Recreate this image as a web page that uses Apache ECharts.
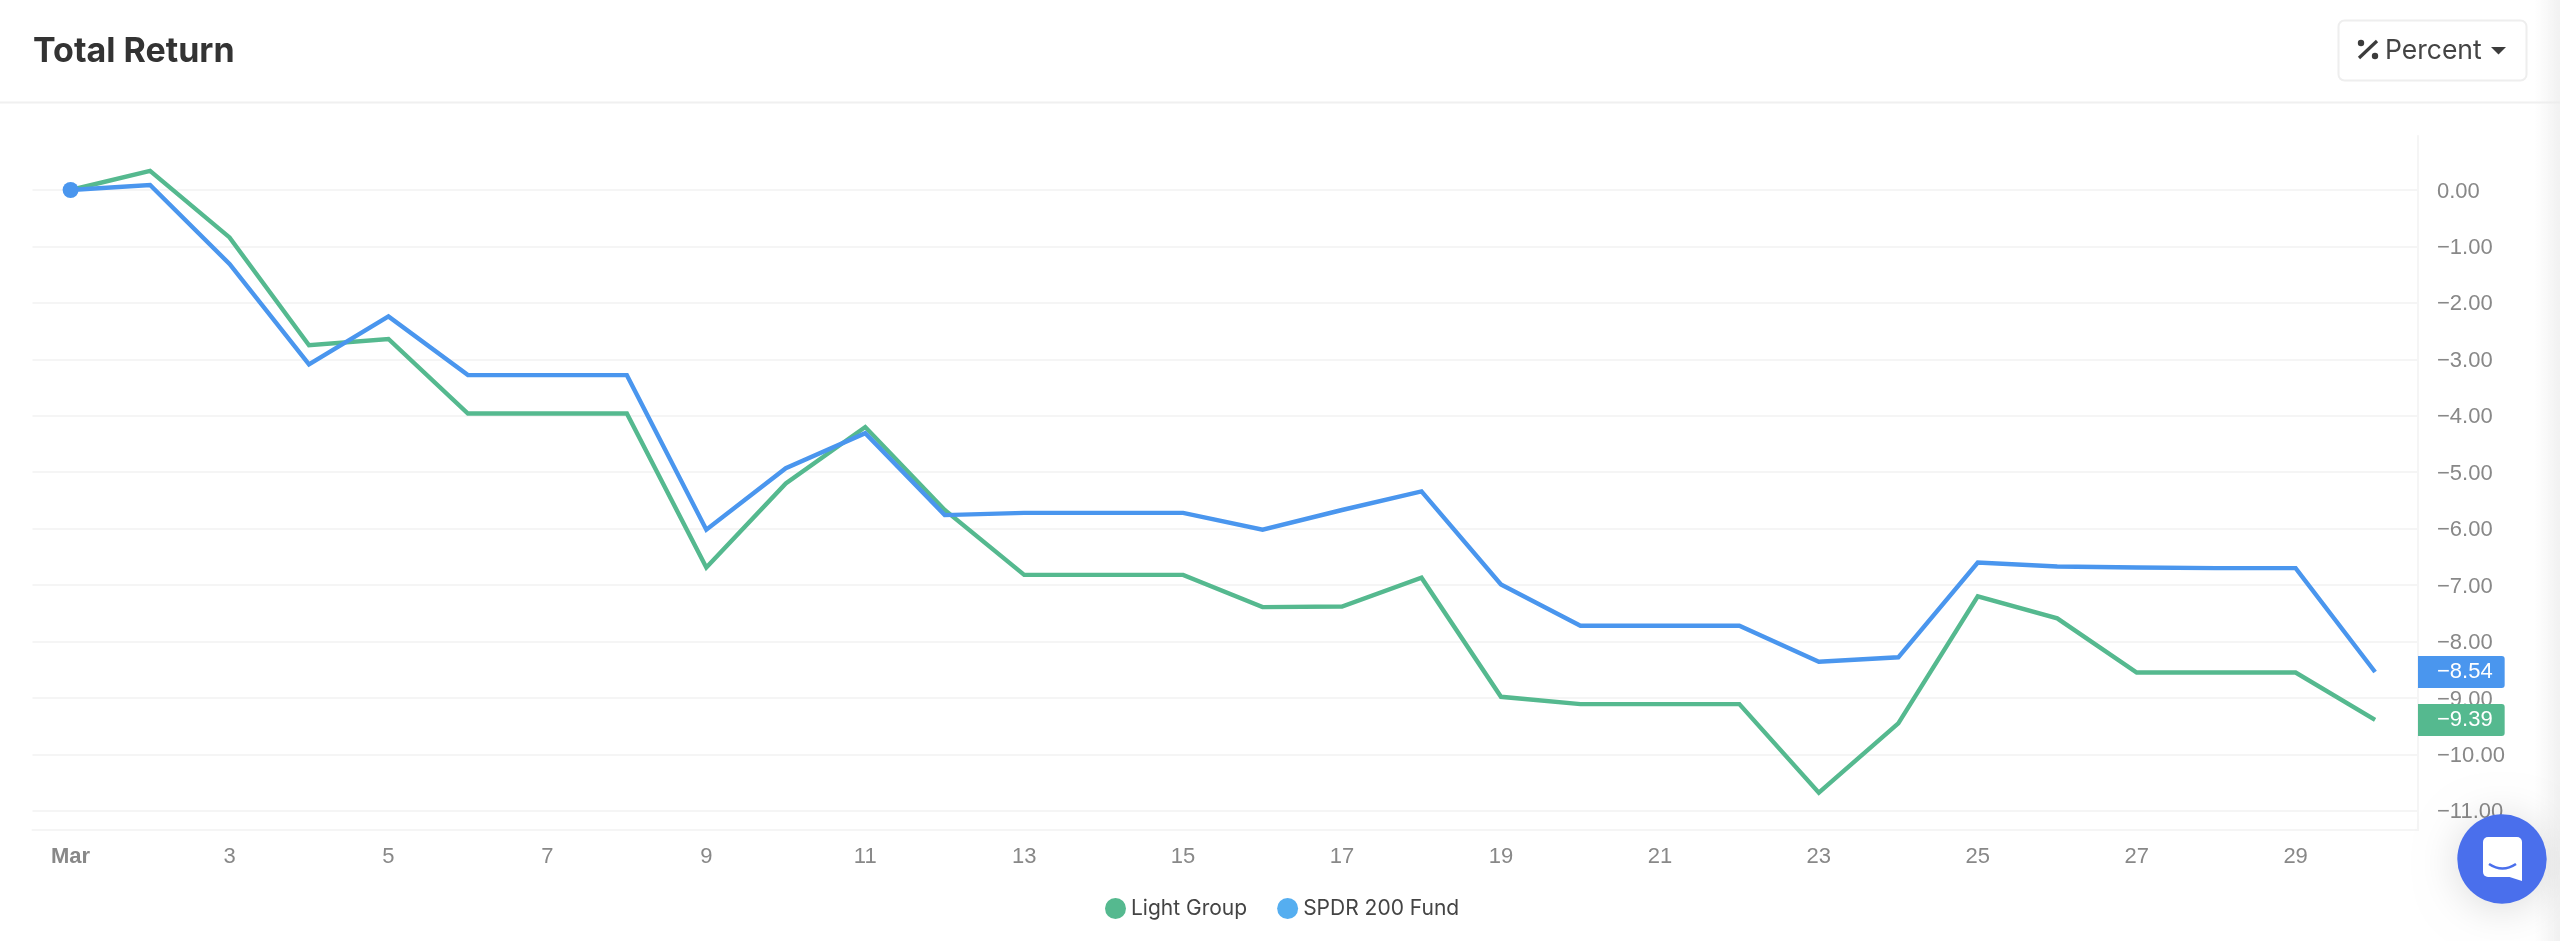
<!DOCTYPE html>
<html>
<head>
<meta charset="utf-8">
<style>
  html, body { margin: 0; padding: 0; background: #fff; }
  #chart { width: 2560px; height: 941px; }
</style>
<script src="https://cdn.jsdelivr.net/npm/echarts@6/dist/echarts.min.js"></script>
</head>
<body>
<div id="chart"></div>
<script>
const days = [1,2,3,4,5,6,7,8,9,10,11,12,13,14,15,16,17,18,19,20,21,22,23,24,25,26,27,28,29,30];
const lightGroup = [0,0.34,-0.84,-2.75,-2.64,-3.96,-3.96,-3.96,-6.69,-5.2,-4.2,-5.67,-6.82,-6.82,-6.82,-7.39,-7.38,-6.87,-8.98,-9.11,-9.11,-9.11,-10.68,-9.45,-7.2,-7.59,-8.55,-8.55,-8.55,-9.39];
const spdrFund = [0,0.09,-1.31,-3.09,-2.24,-3.28,-3.28,-3.28,-6.02,-4.93,-4.31,-5.76,-5.72,-5.72,-5.72,-6.02,-5.67,-5.34,-6.99,-7.72,-7.72,-7.72,-8.36,-8.28,-6.6,-6.67,-6.69,-6.7,-6.7,-8.54];
const xTicks = [1,3,5,7,9,11,13,15,17,19,21,23,25,27,29];
const yTicks = [0,-1,-2,-3,-4,-5,-6,-7,-8,-9,-10,-11];

const GREEN = '#55b98f', BLUE = '#4a96ee', LEGEND_BLUE = '#55aef0', RULE = '#f5f5f5';
const signed = v => v.toFixed(2).replace('-', '\u2212');

// Last value of a series, shown as a coloured tag over the value axis.
function endTag(values, color) {
  const last = values[values.length - 1];
  return {
    silent: true,
    symbol: 'none',
    lineStyle: { color: 'transparent', width: 0 },
    data: [{ yAxis: last }],
    label: {
      show: true, position: 'end', distance: 0, formatter: signed(last),
      color: '#fff', opacity: 1, fontFamily: 'Liberation Sans', fontSize: 22, lineHeight: 32,
      backgroundColor: color, borderRadius: [0, 3, 3, 0], padding: [0, 12, 0, 19]
    }
  };
}

function lineSeries(name, values, color) {
  return {
    name, type: 'line',
    data: days.map((d, i) => [d, values[i]]),
    showAllSymbol: true,
    symbol: 'circle',
    symbolSize: (v, p) => (color === BLUE && p.dataIndex === 0 ? 16 : 0),
    itemStyle: { color },
    lineStyle: { color, width: 4.4, join: 'miter' },
    markLine: endTag(values, color),
    animation: false
  };
}

const chart = echarts.init(document.getElementById('chart'));
chart.setOption({
  animation: false,
  title: {
    text: 'Total Return', left: 28, top: 30,
    textStyle: { fontFamily: 'Inter', fontWeight: 700, fontSize: 34, color: '#333' }
  },
  legend: {
    left: 1100, top: 893, itemWidth: 21, itemHeight: 21, itemGap: 30, icon: 'circle',
    textStyle: { fontFamily: 'Inter', fontSize: 21, color: '#444' },
    data: [
      { name: 'Light Group', itemStyle: { color: GREEN } },
      { name: 'SPDR 200 Fund', itemStyle: { color: LEGEND_BLUE } }
    ]
  },
  grid: { left: 32.5, right: 142, top: 136, bottom: 111 },
  xAxis: {
    type: 'value', min: 0.5206, max: 30.54,
    splitLine: { show: false },
    axisLine: { show: true, onZero: false, lineStyle: { color: RULE, width: 2 } },
    axisTick: { show: false, customValues: xTicks },
    axisLabel: {
      customValues: xTicks, margin: 16, color: '#888', fontFamily: 'Liberation Sans', fontSize: 22,
      formatter: v => (v === 1 ? '{m|Mar}' : String(v)),
      rich: { m: { fontWeight: 'bold', color: '#888', fontFamily: 'Liberation Sans', fontSize: 22 } }
    }
  },
  yAxis: {
    type: 'value', position: 'right', min: -11.34, max: 0.957,
    splitLine: { show: true, lineStyle: { color: RULE, width: 2 } },
    axisLine: { show: true, onZero: false, lineStyle: { color: RULE, width: 2 } },
    axisTick: { show: false, customValues: yTicks },
    axisLabel: {
      customValues: yTicks, margin: 19, align: 'left', color: '#888',
      fontFamily: 'Liberation Sans', fontSize: 22,
      formatter: v => '{v|' + signed(v) + '}',
      rich: { v: { color: '#888', fontFamily: 'Liberation Sans', fontSize: 22, padding: [3, 0, 0, 0] } }
    }
  },
  series: [
    lineSeries('Light Group', lightGroup, GREEN),
    lineSeries('SPDR 200 Fund', spdrFund, BLUE)
  ],
  graphic: [
    // Soft edge along the right side of the page
    { type: 'rect', z: 1, silent: true, shape: { x: 2535, y: 0, width: 25, height: 941 },
      style: { fill: new echarts.graphic.LinearGradient(0, 0, 1, 0, [
        { offset: 0, color: 'rgba(235,235,235,0)' }, { offset: 1, color: 'rgba(235,235,235,0.7)' }]) } },
    // Header rule
    { type: 'rect', shape: { x: 0, y: 101.5, width: 2560, height: 2 }, style: { fill: '#f0f0f0' }, silent: true },
    // Percent button
    { type: 'rect', shape: { x: 2338.5, y: 20.5, width: 188, height: 60, r: 6 },
      style: { fill: '#fff', stroke: '#eeeeee', lineWidth: 2 }, silent: true },
    { type: 'line', shape: { x1: 2359, y1: 58, x2: 2377, y2: 41 }, style: { stroke: '#3c3c3c', lineWidth: 3.2 }, silent: true },
    { type: 'circle', shape: { cx: 2361, cy: 43, r: 3.2 }, style: { fill: '#3c3c3c' }, silent: true },
    { type: 'circle', shape: { cx: 2375, cy: 56, r: 3.2 }, style: { fill: '#3c3c3c' }, silent: true },
    { type: 'text', x: 2385, y: 51, silent: true,
      style: { text: 'Percent', fill: '#444', font: '400 26.5px Inter', textVerticalAlign: 'middle' } },
    { type: 'polygon', shape: { points: [[2491, 47], [2506, 47], [2498.5, 54.5]] }, style: { fill: '#3c3c3c' }, silent: true },
    // Chat launcher
    { type: 'circle', z: 50, shape: { cx: 2502, cy: 859, r: 44.7 }, silent: true,
      style: { fill: '#4a6fec', shadowBlur: 40, shadowColor: 'rgba(0,0,0,0.14)', shadowOffsetY: 4 } },
    { type: 'rect', z: 51, silent: true, shape: { x: 2483, y: 837, width: 39, height: 40, r: 5 }, style: { fill: '#fff' } },
    { type: 'polygon', z: 51, silent: true, shape: { points: [[2522, 860], [2522, 881], [2508, 876.5]] }, style: { fill: '#fff' } },
    { type: 'bezierCurve', z: 52, silent: true,
      shape: { x1: 2489, y1: 864, x2: 2516, y2: 864, cpx1: 2502.5, cpy1: 873 },
      style: { fill: 'none', stroke: '#4a6fec', lineWidth: 2.5 } }
  ]
});
</script>
</body>
</html>
